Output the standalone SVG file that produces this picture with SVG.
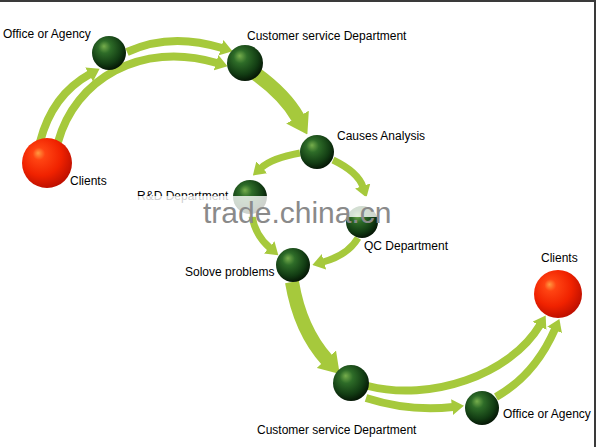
<svg xmlns="http://www.w3.org/2000/svg" width="596" height="447" viewBox="0 0 596 447">
<style>
.lbl{font-family:"Liberation Sans",Arial,sans-serif;font-size:12px;fill:#000}
.arr{fill:none;stroke:#a6c93c;stroke-width:8}
.thin{fill:none;stroke:#a6c93c;stroke-width:7}
.thick{fill:none;stroke:#a6c93c;stroke-width:14}
.wm{font-family:"Liberation Sans",Arial,sans-serif;font-size:30px;fill:#8a8a8a}
</style>
<defs>
<radialGradient id="g" cx="0.42" cy="0.38" r="0.62" fx="0.35" fy="0.3">
<stop offset="0" stop-color="#76ae4c"/>
<stop offset="0.3" stop-color="#2e6c28"/>
<stop offset="0.75" stop-color="#123c13"/>
<stop offset="1" stop-color="#061806"/>
</radialGradient>
<radialGradient id="r" cx="0.42" cy="0.38" r="0.62" fx="0.32" fy="0.3">
<stop offset="0" stop-color="#ff9a40"/>
<stop offset="0.2" stop-color="#ff4412"/>
<stop offset="0.65" stop-color="#f02200"/>
<stop offset="1" stop-color="#c01000"/>
</radialGradient>
<marker id="ah" viewBox="0 0 12 16" markerWidth="12" markerHeight="16" refX="1" refY="8" orient="auto" markerUnits="userSpaceOnUse">
<path d="M0,0 L12,8 L0,16 Z" fill="#a6c93c"/>
</marker>
<marker id="ahL" viewBox="0 0 20 26" markerWidth="20" markerHeight="26" refX="1" refY="13" orient="auto" markerUnits="userSpaceOnUse">
<path d="M0,0 L20,13 L0,26 Z" fill="#a6c93c"/>
</marker>
</defs>
<rect width="596" height="447" fill="#fff"/>
<g id="connectors">
<path class="arr" d="M40,142 Q52,95 90,74" marker-end="url(#ah)"/>
<path class="arr" d="M58,142 C75,80 140,40 217,63" marker-end="url(#ah)"/>
<path class="arr" d="M127,52 Q170,32 222,48" marker-end="url(#ah)"/>
<path class="thick" d="M256,74 Q285,95 298,118" marker-end="url(#ahL)"/>
<path class="thin" d="M300,153 Q272,158 261,168" marker-end="url(#ah)"/>
<path class="thin" d="M333,160 Q358,172 363,187" marker-end="url(#ah)"/>
<path class="thin" d="M252,216 Q255,235 270,248" marker-end="url(#ah)"/>
<path class="thin" d="M358,238 Q348,255 323,262" marker-end="url(#ah)"/>
<path class="thick" d="M292,282 Q300,330 327,360" marker-end="url(#ahL)"/>
<path class="arr" d="M368,386 C430,402 510,375 540,325" marker-end="url(#ah)"/>
<path class="arr" d="M366,398 Q410,412 453,407" marker-end="url(#ah)"/>
<path class="arr" d="M496,397 Q535,375 555,329" marker-end="url(#ah)"/>
</g>
<g id="clients-left"><circle cx="47" cy="163" r="25" fill="url(#r)"/><text class="lbl" x="70" y="185">Clients</text></g>
<g id="office-top"><circle cx="109" cy="53" r="17" fill="url(#g)"/><text class="lbl" x="3" y="38">Office or Agency</text></g>
<g id="customer-top"><circle cx="245" cy="63" r="18" fill="url(#g)"/><text class="lbl" x="247" y="40">Customer service Department</text></g>
<g id="causes"><circle cx="317" cy="152" r="17" fill="url(#g)"/><text class="lbl" x="337" y="140">Causes Analysis</text></g>
<g id="rd"><circle cx="250" cy="197" r="17" fill="url(#g)"/><text class="lbl" x="137" y="200">R&amp;D Department</text></g>
<g id="qc"><circle cx="362" cy="222" r="16" fill="url(#g)"/><text class="lbl" x="364" y="250">QC Department</text></g>
<g id="solve"><circle cx="293" cy="265" r="17" fill="url(#g)"/><text class="lbl" x="185" y="276">Solove problems</text></g>
<g id="customer-bottom"><circle cx="351" cy="383" r="18" fill="url(#g)"/><text class="lbl" x="257" y="434">Customer service Department</text></g>
<g id="office-bottom"><circle cx="482" cy="408" r="17" fill="url(#g)"/><text class="lbl" x="503" y="418">Office or Agency</text></g>
<g id="clients-right"><circle cx="558" cy="294" r="24" fill="url(#r)"/><text class="lbl" x="541" y="262">Clients</text></g>
<g id="watermark">
<rect x="135" y="196" width="265" height="21" fill="#fff" opacity="0.8"/>
<text class="wm" x="203" y="223">trade.china.cn</text>
</g>
<rect x="0" y="0" width="596" height="2" fill="#3a3a3a"/>
<rect x="594" y="0" width="2" height="447" fill="#3a3a3a"/>
</svg>
